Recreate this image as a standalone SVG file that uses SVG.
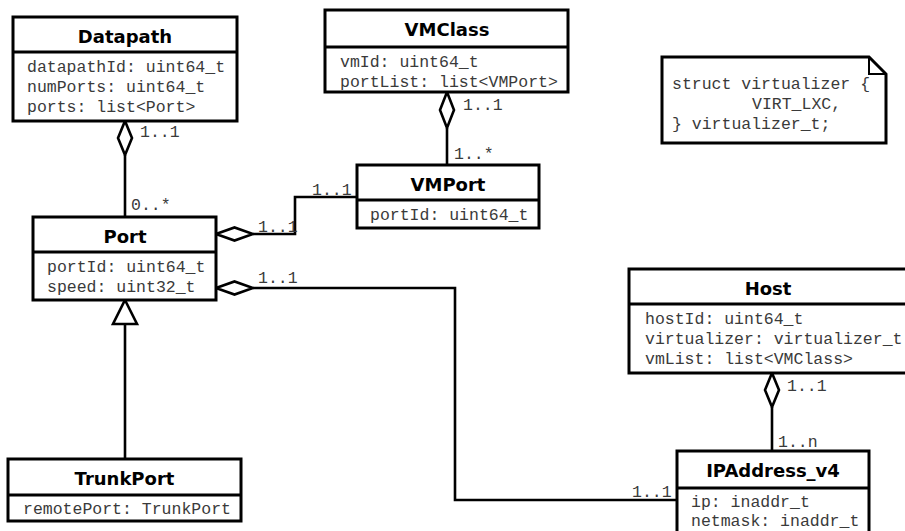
<svg xmlns="http://www.w3.org/2000/svg" width="905" height="531" viewBox="0 0 905 531">
<style>
.box{fill:#fff;stroke:#000;stroke-width:3}
.div{stroke:#000;stroke-width:3}
.title{font-family:"DejaVu Sans",Verdana,sans-serif;font-weight:bold;font-size:18px;fill:#000;text-anchor:middle}
.attr{font-family:"Liberation Mono","Courier New",monospace;font-size:16.5px;fill:#3a3a3a}
.lbl{font-family:"Liberation Mono","Courier New",monospace;font-size:16.5px;fill:#3a3a3a}
.edge{fill:none;stroke:#000;stroke-width:2.6}
.dia{fill:#fff;stroke:#000;stroke-width:2.6}
</style>
<rect width="905" height="531" fill="#fff"/>
<g id="connectors">
  <path class="edge" d="M125,155 V217"/>
  <polygon class="dia" points="125,121 132,138 125,155 118,138"/>
  <path class="edge" d="M447,128 V165"/>
  <polygon class="dia" points="447,92 454,110 447,128 440,110"/>
  <path class="edge" d="M253,234 H295 V197 H357"/>
  <polygon class="dia" points="216,234 234.5,227.5 253,234 234.5,240.5"/>
  <path class="edge" d="M253,288 H455 V500 H677"/>
  <polygon class="dia" points="216,288 234.5,281.5 253,288 234.5,294.5"/>
  <path class="edge" d="M772,407 V451"/>
  <polygon class="dia" points="772,373 779,390 772,407 765,390"/>
  <path class="edge" d="M125,324 V459"/>
  <polygon class="dia" points="125,300 137,324 113,324"/>
  <text class="lbl" x="140" y="137">1..1</text>
  <text class="lbl" x="131" y="210">0..*</text>
  <text class="lbl" x="463" y="110">1..1</text>
  <text class="lbl" x="454" y="159">1..*</text>
  <text class="lbl" x="312" y="195">1..1</text>
  <text class="lbl" x="258" y="232">1..1</text>
  <text class="lbl" x="258" y="283">1..1</text>
  <text class="lbl" x="632" y="497">1..1</text>
  <text class="lbl" x="787" y="391">1..1</text>
  <text class="lbl" x="778" y="447">1..n</text>
</g>
<g id="Datapath">
  <rect class="box" x="13" y="17" width="224" height="104"/>
  <line class="div" x1="13" y1="52" x2="237" y2="52"/>
  <text class="title" x="125" y="43">Datapath</text>
  <text class="attr" x="27" y="72">datapathId: uint64_t</text>
  <text class="attr" x="27" y="92">numPorts: uint64_t</text>
  <text class="attr" x="27" y="112">ports: list&lt;Port&gt;</text>
</g>
<g id="VMClass">
  <rect class="box" x="325" y="10" width="243" height="82"/>
  <line class="div" x1="325" y1="47" x2="568" y2="47"/>
  <text class="title" x="447" y="36">VMClass</text>
  <text class="attr" x="340" y="67">vmId: uint64_t</text>
  <text class="attr" x="340" y="87">portList: list&lt;VMPort&gt;</text>
</g>
<g id="VMPort">
  <rect class="box" x="357" y="165" width="182" height="63"/>
  <line class="div" x1="357" y1="200" x2="539" y2="200"/>
  <text class="title" x="448" y="191">VMPort</text>
  <text class="attr" x="370" y="220">portId: uint64_t</text>
</g>
<g id="Port">
  <rect class="box" x="33" y="217" width="183" height="83"/>
  <line class="div" x1="33" y1="252" x2="216" y2="252"/>
  <text class="title" x="125" y="243">Port</text>
  <text class="attr" x="47" y="272">portId: uint64_t</text>
  <text class="attr" x="47" y="292">speed: uint32_t</text>
</g>
<g id="Host">
  <rect class="box" x="629" y="269" width="280" height="104"/>
  <line class="div" x1="629" y1="304" x2="909" y2="304"/>
  <text class="title" x="768" y="295">Host</text>
  <text class="attr" x="645" y="324">hostId: uint64_t</text>
  <text class="attr" x="645" y="344">virtualizer: virtualizer_t</text>
  <text class="attr" x="645" y="364">vmList: list&lt;VMClass&gt;</text>
</g>
<g id="IPAddress_v4">
  <rect class="box" x="677" y="451" width="192" height="90"/>
  <line class="div" x1="677" y1="488" x2="869" y2="488"/>
  <text class="title" x="773" y="477">IPAddress_v4</text>
  <text class="attr" x="691" y="507">ip: inaddr_t</text>
  <text class="attr" x="691" y="526">netmask: inaddr_t</text>
</g>
<g id="TrunkPort">
  <rect class="box" x="8" y="459" width="233" height="62"/>
  <line class="div" x1="8" y1="495" x2="241" y2="495"/>
  <text class="title" x="124.5" y="485">TrunkPort</text>
  <text class="attr" x="23" y="514">remotePort: TrunkPort</text>
</g>
<g id="note">
  <path class="box" d="M662,57 H869 L886,74 V143 H662 Z"/>
  <path fill="none" stroke="#000" stroke-width="2" d="M869,57 V74 H886"/>
  <text class="attr" x="672" y="89">struct virtualizer {</text>
  <text class="attr" x="752" y="109">VIRT_LXC,</text>
  <text class="attr" x="672" y="129">} virtualizer_t;</text>
</g>
</svg>
